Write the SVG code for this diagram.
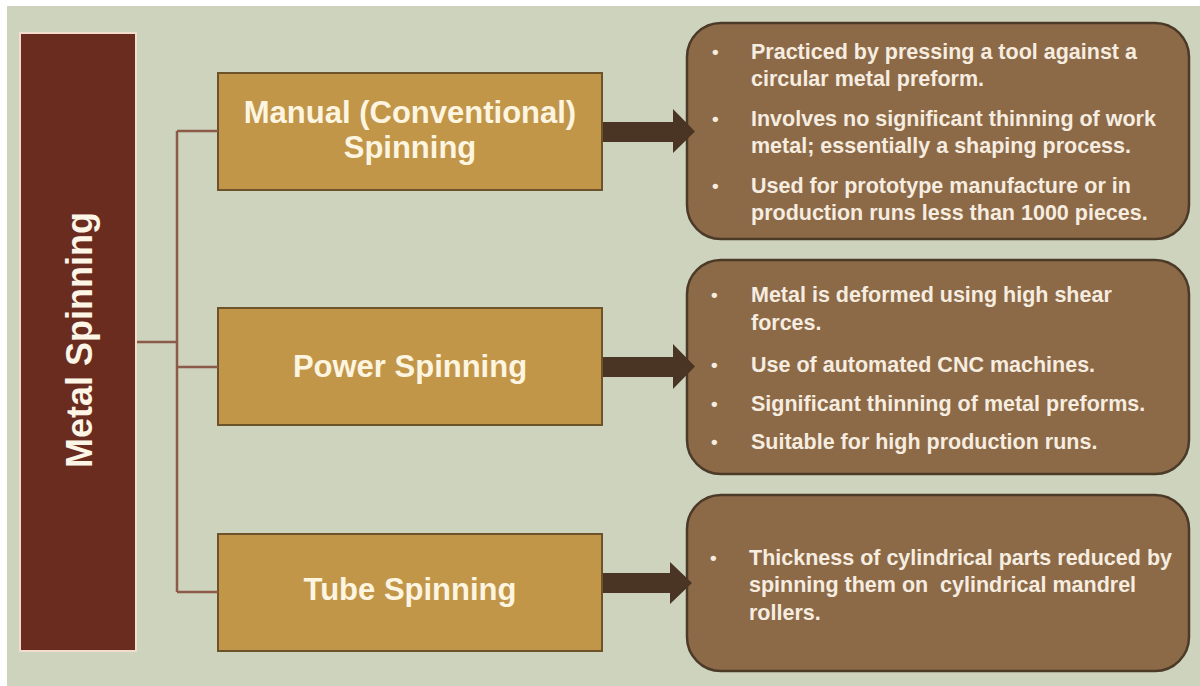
<svg xmlns="http://www.w3.org/2000/svg" width="1200" height="686" viewBox="0 0 1200 686">
<defs>
<style>
.panel{fill:#cdd3bc}
.root{fill:#6a2c1f;stroke:#f2dccd;stroke-width:2}
.sub{fill:#c19649;stroke:#6d5329;stroke-width:2}
.det{fill:#8c6a47;stroke:#4b3a28;stroke-width:2.5}
.conn{fill:none;stroke:#8c5a49;stroke-width:2.5}
.arrow{fill:#4a3423}
.t-root{font-family:"Liberation Sans",Arial,sans-serif;font-size:36px;font-weight:bold;fill:#fdf5e6}
.t-sub{font-family:"Liberation Sans",Arial,sans-serif;font-size:31px;font-weight:bold;fill:#fdf5e0;text-anchor:middle}
.t-det{font-family:"Liberation Sans",Arial,sans-serif;font-size:21.5px;font-weight:bold;fill:#f6ede0;white-space:pre}
.bul{font-family:"Liberation Sans",Arial,sans-serif;font-size:19px;font-weight:bold;fill:#f6ede0}
</style>
</defs>
<rect width="1200" height="686" fill="#ffffff"/>
<rect class="panel" x="7" y="6" width="1193" height="680"/>

<g id="metal-spinning">
<rect class="root" x="20" y="33" width="116" height="618"/>
<text class="t-root" text-anchor="middle" transform="translate(92,340) rotate(-90)">Metal Spinning</text>
</g>

<g id="manual">
<rect class="sub" x="218" y="73" width="384" height="117"/>
<text class="t-sub" x="410" y="123">Manual (Conventional)</text>
<text class="t-sub" x="410" y="158">Spinning</text>
</g>

<g id="power">
<rect class="sub" x="218" y="308" width="384" height="117"/>
<text class="t-sub" x="410" y="377">Power Spinning</text>
</g>

<g id="tube">
<rect class="sub" x="218" y="534" width="384" height="117"/>
<text class="t-sub" x="410" y="600">Tube Spinning</text>
</g>

<g id="manual-details">
<rect class="det" x="687" y="23" width="502" height="216" rx="34"/>
<text class="bul" x="712" y="58">•</text>
<text class="t-det" x="751" y="59">Practiced by pressing a tool against a</text>
<text class="t-det" x="751" y="86">circular metal preform.</text>
<text class="bul" x="712" y="125">•</text>
<text class="t-det" x="751" y="126">Involves no significant thinning of work</text>
<text class="t-det" x="751" y="153">metal; essentially a shaping process.</text>
<text class="bul" x="712" y="192">•</text>
<text class="t-det" x="751" y="193">Used for prototype manufacture or in</text>
<text class="t-det" x="751" y="220">production runs less than 1000 pieces.</text>
</g>

<g id="power-details">
<rect class="det" x="687" y="260" width="502" height="214" rx="34"/>
<text class="bul" x="711" y="301">•</text>
<text class="t-det" x="751" y="302">Metal is deformed using high shear</text>
<text class="t-det" x="751" y="330">forces.</text>
<text class="bul" x="711" y="371">•</text>
<text class="t-det" x="751" y="372">Use of automated CNC machines.</text>
<text class="bul" x="711" y="410">•</text>
<text class="t-det" x="751" y="411">Significant thinning of metal preforms.</text>
<text class="bul" x="711" y="448">•</text>
<text class="t-det" x="751" y="449">Suitable for high production runs.</text>
</g>

<g id="tube-details">
<rect class="det" x="687" y="495" width="502" height="176" rx="34"/>
<text class="bul" x="710" y="564">•</text>
<text class="t-det" x="749" y="565">Thickness of cylindrical parts reduced by</text>
<text class="t-det" x="749" y="592" xml:space="preserve">spinning them on  cylindrical mandrel</text>
<text class="t-det" x="749" y="620">rollers.</text>
</g>

<g id="connectors">
<path class="conn" d="M137 342 H177 M177 131 V592 M177 131 H218 M177 367 H218 M177 592 H218"/>
<path class="arrow" d="M603 122 H673 V109 L695 131.5 L673 153 V142 H603 Z"/>
<path class="arrow" d="M603 357 H673 V344 L695 366.5 L673 389 V377 H603 Z"/>
<path class="arrow" d="M603 573 H670 V562 L692 583 L670 604 V593 H603 Z"/>
</g>
</svg>
